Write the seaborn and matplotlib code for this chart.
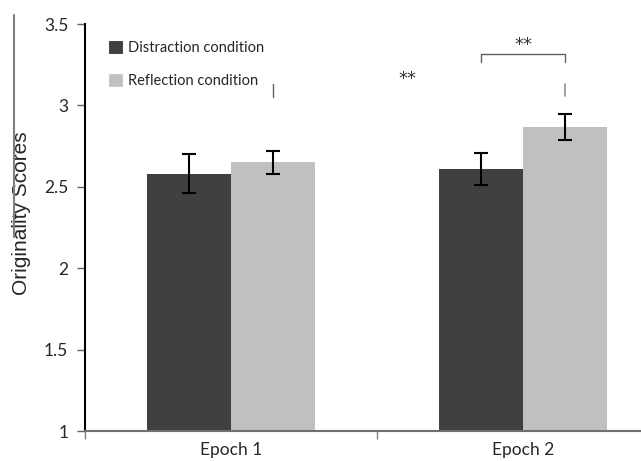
import matplotlib
matplotlib.use("Agg")
import matplotlib.pyplot as plt
from matplotlib.lines import Line2D
import seaborn as sns
import pandas as pd

epochs = ["Epoch 1", "Epoch 2"]
conditions = ["Distraction condition", "Reflection condition"]
means = {"Distraction condition": [2.58, 2.61],
         "Reflection condition": [2.65, 2.87]}
errs = {"Distraction condition": [0.12, 0.10],
        "Reflection condition": [0.07, 0.08]}
yticks = [1, 1.5, 2, 2.5, 3, 3.5]
ytick_labels = ["1", "1.5", "2", "2.5", "3", "3.5"]

rows = []
for c in conditions:
    for e, m, s in zip(epochs, means[c], errs[c]):
        rows.append({"epoch": e, "condition": c, "score": m, "err": s})
df = pd.DataFrame(rows)

sns.set_style("white")
plt.rcParams['font.family'] = ['Lato', 'DejaVu Sans']

fig = plt.figure(figsize=(6.41, 4.61), dpi=100)
ax = fig.add_axes([85/641, 1-431/461, 1-85/641, (431-24)/461])

palette = {"Distraction condition": "#404040", "Reflection condition": "#c0c0c0"}
sns.barplot(data=df, x="epoch", y="score", hue="condition", hue_order=conditions,
            order=epochs, palette=palette, width=0.575, errorbar=None,
            saturation=1, ax=ax, linewidth=0)

# error bars at bar centres
for patch_group, c in zip(ax.containers, conditions):
    sub = df[df.condition == c].set_index("epoch").loc[epochs]
    xs = [p.get_x() + p.get_width()/2 for p in patch_group]
    ax.errorbar(xs, sub["score"], yerr=sub["err"], fmt="none", ecolor="black",
                elinewidth=1.5, capsize=5, capthick=1.5, zorder=5)
    if c == "Distraction condition":
        dark_x = xs
    else:
        light_x = xs

ax.set_ylim(1, 3.5)
ax.set_xlim(-0.5, 1.404)
ax.set_yticks(yticks)
ax.set_yticklabels(ytick_labels, fontsize=12.5)
ax.set_xlabel("")
ax.set_ylabel("Originality Scores", fontsize=15, family=["Liberation Sans", "DejaVu Sans"])
ax.yaxis.set_label_coords(-0.097, 0.536)
ax.set_xticks([0, 1])
ax.set_xticklabels(epochs, fontsize=12.5)
ax.set_xticks([-0.5, 0.5], minor=True)
ax.tick_params(axis="x", which="major", length=0, pad=8)
ax.tick_params(axis="x", which="minor", length=6, color="#808080", width=1, direction="out", bottom=True)
ax.tick_params(axis="y", length=6, color="#606060", width=1, direction="out", left=True, pad=6)

for s in ["top", "right"]:
    ax.spines[s].set_visible(False)
ax.spines["left"].set_color("black")
ax.spines["left"].set_linewidth(1.5)
ax.spines["bottom"].set_color("#707070")
ax.spines["bottom"].set_linewidth(1.5)

# significance marks
bx0, bx1 = dark_x[1], light_x[1]
ax.plot([bx0, bx0, bx1, bx1], [3.267, 3.316, 3.316, 3.267], color="#606060", lw=1)
ax.text((bx0 + bx1)/2, 3.318, "**", ha="center", va="bottom", fontsize=13,
        color="#333333", family=["DejaVu Sans"])
ax.text(0.603, 3.16, "**", ha="center", va="center", fontsize=13,
        color="#333333", family=["DejaVu Sans"])
ax.plot([bx1, bx1], [3.058, 3.131], color="#909090", lw=1.2)
ax.plot([light_x[0], light_x[0]], [3.05, 3.131], color="#606060", lw=1)

leg = ax.legend(loc="upper left", bbox_to_anchor=(0.02, 0.99), frameon=False,
                fontsize=10.5, handlelength=0.9, handleheight=0.9,
                handletextpad=0.4, labelspacing=1.3)
for h in leg.legend_handles:
    h.set_edgecolor("#202020")
    h.set_linewidth(0.5)
leg.legend_handles[1].set_edgecolor("#c0c0c0")

fig.add_artist(Line2D([14/641, 14/641], [1-15/461, 1-237/461], color="#808080", lw=1.5))

fig.savefig("out.png", dpi=100)
